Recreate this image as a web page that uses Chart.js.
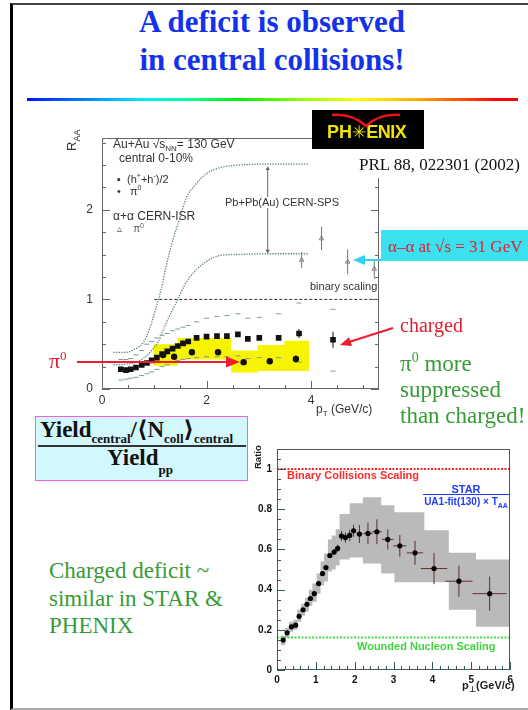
<!DOCTYPE html>
<html><head><meta charset="utf-8">
<script src="https://cdn.jsdelivr.net/npm/chart.js@4.4.1/dist/chart.umd.min.js"></script>
<style>
html,body{margin:0;padding:0;background:#fff}
body{position:relative;width:528px;height:710px;overflow:hidden}
.a{position:absolute;white-space:nowrap;line-height:1}
.sf{font-family:"Liberation Serif","Times New Roman","DejaVu Serif",serif}
.ss{font-family:"Liberation Sans",Arial,"DejaVu Sans",sans-serif}
sub,sup{line-height:0}
</style></head>
<body>
<div class="a" style="left:10px;top:3px;width:560px;height:703px;border-left:3px solid #000;border-top:2px solid #444;border-bottom:2px solid #aaa"></div>
<div class="a sf" style="left:0;top:3px;width:544px;text-align:center;font-weight:bold;font-size:31px;line-height:38px;color:rgb(20,50,235)">A deficit is observed<br>in central collisions!</div>
<div class="a" style="left:27px;top:98px;width:491px;height:3px;background:linear-gradient(to right,#0010ff 0%,#0090ff 13%,#00e8ff 23%,#00ff90 34%,#00f000 43%,#90ff00 56%,#ffff00 67%,#ffb000 79%,#ff5000 88%,#ff0000 96%)"></div>

<div class="a" style="left:62px;top:122px;width:322px;height:295px"><canvas id="c1" width="322" height="295"></canvas></div>
<div class="a" style="left:240px;top:438px;width:277px;height:262px"><canvas id="c2" width="277" height="262"></canvas></div>

<!-- PHENIX panel annotations -->
<div class="a" style="left:312px;top:149px;width:216px;height:29px;background:#fff"></div>
<div class="a sf" style="left:359px;top:156px;font-size:17px;color:#111">PRL 88, 022301 (2002)</div>
<div class="a" style="left:312px;top:110px;width:112px;height:39px;background:#000"></div>
<div class="a ss" style="left:327px;top:123px;font-size:18px;font-weight:bold;color:#f2e600">PH<span style="font-size:17px">✳</span><span style="letter-spacing:-0.5px">ENIX</span></div>
<div class="a ss" style="left:65px;top:151px;font-size:13px;color:#333;transform-origin:left top;transform:rotate(-90deg)">R<sub style="font-size:9px">AA</sub></div>
<div class="a ss" style="left:113px;top:138px;font-size:12px;color:#333">Au+Au √s<sub style="font-size:8px">NN</sub>= 130 GeV</div>
<div class="a ss" style="left:119px;top:152px;font-size:12px;color:#333">central 0-10%</div>
<div class="a ss" style="left:117px;top:174px;font-size:11px;color:#333">▪&nbsp; (h<sup style="font-size:7px">+</sup>+h<sup style="font-size:7px">-</sup>)/2</div>
<div class="a ss" style="left:117px;top:186px;font-size:11px;color:#333">•&nbsp;&nbsp;&nbsp;π<sup style="font-size:7px">0</sup></div>
<div class="a ss" style="left:113px;top:210px;font-size:12px;color:#333">α+α CERN-ISR</div>
<div class="a ss" style="left:117px;top:224px;font-size:10px;color:#555">▵&nbsp;&nbsp;&nbsp;&nbsp;π<sup style="font-size:7px">0</sup></div>
<div class="a ss" style="left:225px;top:197px;font-size:11px;color:#333;background:#fff">Pb+Pb(Au) CERN-SPS</div>
<div class="a ss" style="left:310px;top:281px;font-size:11px;color:#333">binary scaling</div>
<div class="a ss" style="left:316px;top:403px;font-size:12px;color:#333">p<sub style="font-size:8px">T</sub> (GeV/c)</div>

<div class="a" style="left:381px;top:230px;width:160px;height:31px;background:rgb(60,225,240)"></div>
<div class="a sf" style="left:388px;top:238px;font-size:17px;color:#e01e2e">α–α at √s = 31 GeV</div>
<div class="a sf" style="left:400px;top:315px;font-size:20px;color:#e01e2e">charged</div>
<div class="a sf" style="left:400px;top:351px;font-size:23px;line-height:26px;color:rgb(55,155,55)">π<sup style="font-size:14px">0</sup> more<br>suppressed<br>than charged!</div>
<div class="a sf" style="left:49px;top:350px;font-size:22px;color:#e01e2e">π<sup style="font-size:13px">0</sup></div>

<!-- formula box -->
<div class="a" style="left:35px;top:416px;width:211px;height:63px;background:#d3f8fb;border:1.5px solid #f060e0"></div>
<div class="a sf" style="left:40px;top:418px;font-weight:bold;font-size:23px;color:#111">Yield<span style="font-size:13px;position:relative;top:6px">central</span>/⟨N<span style="font-size:13px;position:relative;top:6px">coll</span>⟩<span style="font-size:13px;position:relative;top:6px">central</span></div>
<div class="a" style="left:38px;top:445px;width:208px;height:2px;background:#333"></div>
<div class="a sf" style="left:107px;top:446px;font-weight:bold;font-size:23px;color:#111">Yield<span style="font-size:13px;position:relative;top:9px">pp</span></div>

<div class="a sf" style="left:49px;top:557px;font-size:23px;line-height:27.5px;color:rgb(55,155,55)">Charged deficit ~<br>similar in STAR &amp;<br>PHENIX</div>

<!-- STAR panel annotations -->
<div class="a ss" style="left:253px;top:469px;font-size:9.5px;font-weight:bold;color:#222;transform-origin:left top;transform:rotate(-90deg)">Ratio</div>
<div class="a ss" style="left:287px;top:470px;font-size:11px;font-weight:bold;color:#ff2a2a">Binary Collisions Scaling</div>
<div class="a ss" style="left:357px;top:641px;font-size:11px;font-weight:bold;color:#3fd43f">Wounded Nucleon Scaling</div>
<div class="a ss" style="left:423px;top:484px;width:86px;text-align:center;font-size:11px;font-weight:bold;color:#1e3cff">STAR</div>
<div class="a" style="left:423px;top:494px;width:86px;height:1px;background:#1e3cff"></div>
<div class="a ss" style="left:421px;top:497px;width:90px;text-align:center;font-size:10px;font-weight:bold;color:#1e3cff">UA1-fit(130) × T<sub style="font-size:7px">AA</sub></div>
<div class="a ss" style="left:462px;top:680px;font-size:11px;font-weight:bold;color:#222">p<sub style="font-size:8px">⊥</sub>(GeV/c)</div>

<svg class="a" style="left:0;top:0" width="528" height="710">
 <path d="M332,115 Q352,113 366,126 Q380,113 400,115" stroke="#e8141c" stroke-width="2.6" fill="none"/>
 <line x1="77" y1="362" x2="229" y2="362" stroke="#ee1c2e" stroke-width="2"/>
 <polygon points="240,362 226,356.5 226,367.5" fill="#ee1c2e"/>
 <line x1="393" y1="328" x2="349" y2="342" stroke="#ee1c2e" stroke-width="2"/>
 <polygon points="340,345 352,346 349,337.3" fill="#ee1c2e"/>
 <line x1="381" y1="260" x2="362" y2="260" stroke="#2fd2ea" stroke-width="2"/>
 <polygon points="353,260 365,255 365,265" fill="#2fd2ea"/>
</svg>

<script>
// ---------- PHENIX panel (R_AA vs pT) ----------
const phxChargedPt    = [0.36,0.46,0.55,0.65,0.76,0.86,0.95,1.05,1.15,1.25,1.35,1.45,1.55,1.65,1.81,2.00,2.20,2.39,2.60,2.79,3.01,3.38,3.77,4.42];
const phxChargedRaa   = [0.22,0.21,0.22,0.24,0.27,0.29,0.32,0.35,0.39,0.42,0.45,0.48,0.51,0.53,0.57,0.585,0.59,0.59,0.61,0.56,0.57,0.57,0.62,0.55];
const phxChargedErr   = [0,0,0,0,0,0,0,0,0,0,0,0,0,0,0,0,0,0,0,0,0,0.015,0.05,0.09];
const phxChargedSysHi = [0.33,0.33,0.34,0.38,0.43,0.50,0.53,0.57,0.60,0.62,0.65,0.67,0.69,0.71,0.75,0.79,0.81,0.82,0.84,0.79,0.80,0.84,0.96,0.89];
const phxChargedSysLo = [0.10,0.11,0.12,0.13,0.15,0.17,0.19,0.22,0.25,0.27,0.30,0.32,0.33,0.34,0.35,0.36,0.36,0.36,0.37,0.34,0.35,0.35,0.30,0.20];
const phxPi0Pt        = [1.17,1.38,1.72,2.22,2.71,3.21,3.71];
const phxPi0Raa       = [0.38,0.36,0.41,0.41,0.30,0.31,0.335];
const phxPi0Err       = [0,0,0.015,0.02,0.03,0.03,0.04];
const phxPi0SysEdges  = [0.98,1.45,2.47,2.98,3.49,3.96];
const phxPi0SysHi     = [0.50,0.57,0.43,0.49,0.54];
const phxPi0SysLo     = [0.26,0.33,0.185,0.20,0.20];
const spsUpperPt      = [0.22,0.45,0.60,0.79,0.91,1.04,1.14,1.23,1.36,1.49,1.61,1.77,1.99,2.25,2.63,3.20,3.96];
const spsUpperRaa     = [0.41,0.41,0.435,0.52,0.67,0.92,1.13,1.38,1.67,1.91,2.13,2.27,2.40,2.47,2.50,2.51,2.51];
const spsLowerPt      = [0.22,0.50,0.70,0.85,0.95,1.07,1.23,1.45,1.58,1.77,1.99,2.25,2.50,3.20,3.96];
const spsLowerRaa     = [0.27,0.28,0.31,0.37,0.43,0.52,0.74,1.00,1.16,1.31,1.42,1.49,1.50,1.51,1.51];
const spsArrowPt      = [3.17,3.17];
const spsArrowRaa     = [1.54,2.46];
const isrPt           = [3.82,4.20,4.70,5.21];
const isrRaa          = [1.44,1.68,1.42,1.34];
const isrErr          = [0.09,0.13,0.14,0.11];
const phxBinaryPt     = [1.0,5.3];
const phxBinaryRaa    = [1,1];
const phxXTicks = {min:0,max:5.3,step:2};
const phxYTicks = {min:0,max:2.8,step:1};

// ---------- STAR panel (Ratio vs pT) ----------
const starPt    = [0.16,0.26,0.37,0.48,0.57,0.67,0.77,0.86,0.96,1.07,1.17,1.26,1.36,1.47,1.56,1.66,1.76,1.87,1.97,2.12,2.34,2.57,2.85,3.16,3.55,4.04,4.68,5.47];
const starRatio = [0.149,0.185,0.215,0.223,0.267,0.30,0.327,0.356,0.38,0.43,0.48,0.51,0.57,0.587,0.605,0.667,0.659,0.670,0.693,0.677,0.680,0.688,0.650,0.618,0.583,0.505,0.442,0.38];
const starErrY  = [0.008,0.008,0.008,0.008,0.008,0.008,0.008,0.008,0.008,0.01,0.01,0.01,0.012,0.015,0.018,0.025,0.025,0.028,0.03,0.045,0.054,0.062,0.05,0.054,0.06,0.078,0.077,0.085];
const starErrX  = [0,0,0,0,0,0,0,0,0,0,0,0,0,0,0,0,0,0,0,0.08,0.12,0.13,0.15,0.17,0.21,0.34,0.35,0.44];
const starSysEdges = [0.10,0.21,0.31,0.42,0.52,0.62,0.72,0.82,0.91,1.02,1.12,1.21,1.31,1.41,1.51,1.61,1.87,2.21,2.68,3.02,3.79,4.42,5.12,6.0];
const starSysHi = [0.17,0.21,0.24,0.25,0.30,0.33,0.36,0.40,0.43,0.48,0.54,0.58,0.65,0.67,0.70,0.776,0.83,0.86,0.82,0.785,0.696,0.583,0.55];
const starSysLo = [0.125,0.16,0.19,0.20,0.24,0.27,0.29,0.32,0.34,0.38,0.42,0.44,0.49,0.50,0.52,0.55,0.56,0.53,0.48,0.437,0.437,0.30,0.215];
const starBinaryPt = [0,6];    const starBinary = [1,1];
const starWoundedPt = [0,6];   const starWounded = [0.162,0.162];
const starXTicks = {min:0,max:6,step:1};
const starYTicks = {min:0,max:1.1,step:0.2};

// ---------- helpers ----------
Chart.defaults.font.family = '"Liberation Sans", Arial, sans-serif';
const pts = (xs, ys) => xs.map((x,i)=>({x, y: ys[i]}));
const vbars = (xs, ys, es) => { const d=[]; xs.forEach((x,i)=>{ if (es[i]>0) d.push({x, y: ys[i]-es[i]}, {x, y: ys[i]+es[i]}, {x, y: null}); }); return d; };
const hbars = (xs, ys, es) => { const d=[]; xs.forEach((x,i)=>{ if (es[i]>0) d.push({x: x-es[i], y: ys[i]}, {x: x+es[i], y: ys[i]}, {x, y: null}); }); return d; };
const steps = (edges, vals) => edges.map((x,i)=>({x, y: vals[Math.min(i, vals.length-1)]}));
const clear = 'rgba(0,0,0,0)';

const rootFrame = {
  id: 'rootFrame',
  afterDatasetsDraw(chart, args, o) {
    const {ctx, chartArea: a} = chart;
    ctx.save();
    ctx.lineWidth = 1;
    ctx.strokeStyle = o.frameColor;
    ctx.strokeRect(Math.round(a.left)+0.5, Math.round(a.top)+0.5, Math.round(a.right-a.left)-1, Math.round(a.bottom-a.top)-1);
    ctx.strokeStyle = o.tickColor;
    for (const t of o.ticks) {
      const sc = chart.scales[t.axis];
      const n = Math.floor((sc.max - sc.min)/t.step + 1e-9);
      for (let i = 0; i <= n; i++) {
        const p = Math.round(sc.getPixelForValue(sc.min + i*t.step)) + 0.5;
        ctx.beginPath();
        for (const side of t.sides) {
          if (side==='bottom'){ctx.moveTo(p,a.bottom);ctx.lineTo(p,a.bottom-t.len);}
          if (side==='top'){ctx.moveTo(p,a.top);ctx.lineTo(p,a.top+t.len);}
          if (side==='left'){ctx.moveTo(a.left,p);ctx.lineTo(a.left+t.len,p);}
          if (side==='right'){ctx.moveTo(a.right,p);ctx.lineTo(a.right-t.len,p);}
        }
        ctx.stroke();
      }
    }
    ctx.restore();
  }
};

function scale(tk, fitKey, fitVal, pad, font, color) {
  return {type:'linear', min:tk.min, max:tk.max,
    grid:{display:false, drawTicks:false}, border:{display:false},
    ticks:{stepSize:tk.step, includeBounds:false, padding:pad, color, font, maxRotation:0, autoSkip:false,
      callback: v => String(+v.toFixed(2))},
    afterFit:s=>{ s[fitKey] = fitVal; }};
}
const base = {responsive:false, animation:false, devicePixelRatio:1, events:[]};

// ---------- PHENIX chart ----------
new Chart(document.getElementById('c1'), {
  type:'line',
  data:{datasets:[
    {data: pts(phxChargedPt, phxChargedRaa), showLine:false, pointStyle:'rect', pointRadius:4, backgroundColor:'#111', borderColor:'#111', borderWidth:0},
    {data: pts(phxPi0Pt, phxPi0Raa), showLine:false, pointStyle:'circle', pointRadius:3.2, backgroundColor:'#111', borderColor:'#111', borderWidth:0},
    {data: vbars(phxChargedPt, phxChargedRaa, phxChargedErr), borderColor:'#333', borderWidth:1.2, pointRadius:0},
    {data: vbars(phxPi0Pt, phxPi0Raa, phxPi0Err), borderColor:'#333', borderWidth:1.2, pointRadius:0},
    {data: pts(isrPt, isrRaa), showLine:false, pointStyle:'triangle', pointRadius:2.6, backgroundColor:clear, borderColor:'#777', borderWidth:0.9},
    {data: vbars(isrPt, isrRaa, isrErr), borderColor:'#777', borderWidth:1, pointRadius:0},
    {data: pts(phxChargedPt, phxChargedSysHi), showLine:false, pointStyle:'line', pointRadius:2.5, borderColor:'#7a9c9c', borderWidth:1},
    {data: pts(phxChargedPt, phxChargedSysLo), showLine:false, pointStyle:'line', pointRadius:2.5, borderColor:'#7a9c9c', borderWidth:1},
    {data: pts(phxBinaryPt, phxBinaryRaa), borderColor:'#333', borderDash:[3,2], borderWidth:1, pointRadius:0},
    {data: pts(spsArrowPt, spsArrowRaa), borderColor:'#666', borderWidth:1, pointStyle:'triangle', pointRadius:2.5, pointRotation:[180,0], backgroundColor:'#666', pointBorderWidth:0},
    {data: pts(spsUpperPt, spsUpperRaa), borderColor:'#5a8282', borderDash:[1.3,1.3], borderWidth:1.3, pointRadius:0, cubicInterpolationMode:'monotone'},
    {data: pts(spsLowerPt, spsLowerRaa), borderColor:'#5a8282', borderDash:[1.3,1.3], borderWidth:1.3, pointRadius:0, cubicInterpolationMode:'monotone'},
    {data: steps(phxPi0SysEdges, phxPi0SysHi), stepped:true, borderColor:clear, borderWidth:0, pointRadius:0, fill:false},
    {data: steps(phxPi0SysEdges, phxPi0SysLo), stepped:true, borderColor:clear, borderWidth:0, pointRadius:0, fill:'-1', backgroundColor:'#f7f400'}
  ]},
  options:{...base,
    layout:{padding:{top:5,right:5,left:0,bottom:0}},
    plugins:{legend:{display:false}, tooltip:{enabled:false},
      rootFrame:{frameColor:'#666', tickColor:'#666', ticks:[
        {axis:'y',step:1,len:8,sides:['left','right']},
        {axis:'y',step:0.25,len:4,sides:['left','right']},
        {axis:'x',step:2,len:8,sides:['bottom']},
        {axis:'x',step:0.5,len:4,sides:['bottom']}]}},
    scales:{
      x: scale(phxXTicks,'height',28,4,{size:12},'#333'),
      y: scale(phxYTicks,'width',40,9,{size:12},'#333')
    }
  },
  plugins:[rootFrame]
});

// ---------- STAR chart ----------
new Chart(document.getElementById('c2'), {
  type:'line',
  data:{datasets:[
    {data: pts(starPt, starRatio), showLine:false, pointStyle:'circle', pointRadius:2.6, backgroundColor:'#000', borderColor:'#000', borderWidth:0},
    {data: vbars(starPt, starRatio, starErrY), borderColor:'#5a2e2e', borderWidth:1, pointRadius:0},
    {data: hbars(starPt, starRatio, starErrX), borderColor:'#6a2e2e', borderWidth:1, pointRadius:0},
    {data: pts(starBinaryPt, starBinary), borderColor:'#ff2020', borderDash:[2,1.5], borderWidth:2, pointRadius:0},
    {data: pts(starWoundedPt, starWounded), borderColor:'#44dd44', borderDash:[2,1.5], borderWidth:2, pointRadius:0},
    {data: steps(starSysEdges, starSysHi), stepped:true, borderColor:clear, borderWidth:0, pointRadius:0, fill:false},
    {data: steps(starSysEdges, starSysLo), stepped:true, borderColor:clear, borderWidth:0, pointRadius:0, fill:'-1', backgroundColor:'#bababa'}
  ]},
  options:{...base,
    layout:{padding:{top:5,right:5,left:0,bottom:0}},
    plugins:{legend:{display:false}, tooltip:{enabled:false},
      rootFrame:{frameColor:'#555', tickColor:'#2e5a5a', ticks:[
        {axis:'y',step:0.2,len:8,sides:['left']},
        {axis:'y',step:0.05,len:4,sides:['left']},
        {axis:'x',step:1,len:8,sides:['bottom']},
        {axis:'x',step:0.2,len:4,sides:['bottom']}]}},
    scales:{
      x: scale(starXTicks,'height',30,4,{size:10,weight:'bold'},'#111'),
      y: scale(starYTicks,'width',37,5,{size:10,weight:'bold'},'#111')
    }
  },
  plugins:[rootFrame]
});
</script>
</body></html>
